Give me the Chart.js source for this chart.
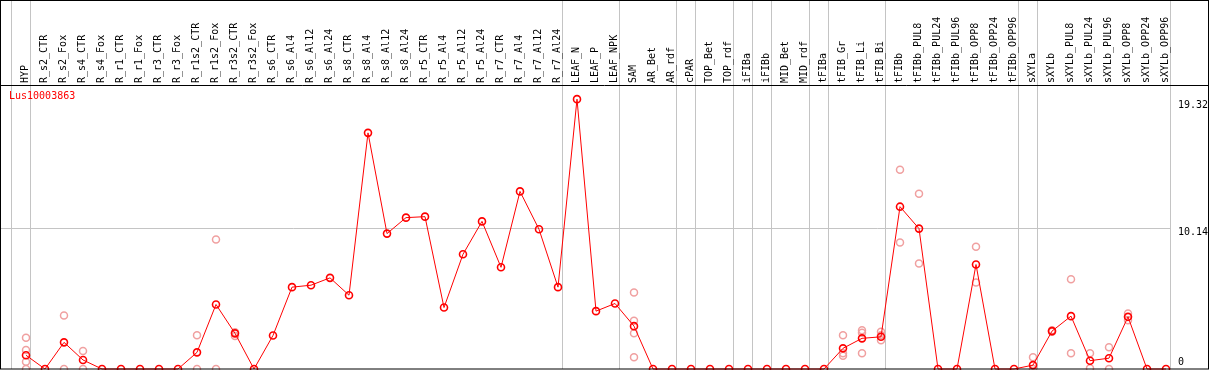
<!DOCTYPE html>
<html>
<head>
<meta charset="utf-8">
<script src="https://cdn.jsdelivr.net/npm/chart.js@4.4.0/dist/chart.umd.min.js"></script>
<style>
  html, body { margin: 0; padding: 0; background: #fff; }
  #wrap { position: relative; width: 1209px; height: 370px; }
  #title { position: absolute; left: 9px; top: 90px; color: #ff0000;
           font: 10px "DejaVu Sans Mono", monospace; white-space: nowrap; }
</style>
</head>
<body>
<div id="wrap">
  <canvas id="c" width="1209" height="370"></canvas>
  <div id="title">Lus10003863</div>
</div>
<script>
// ---- data ----
const categories = [
  "HYP","R_s2_CTR","R_s2_Fox","R_s4_CTR","R_s4_Fox","R_r1_CTR","R_r1_Fox","R_r3_CTR","R_r3_Fox",
  "R_r1s2_CTR","R_r1s2_Fox","R_r3s2_CTR","R_r3s2_Fox","R_s6_CTR","R_s6_Al4","R_s6_Al12","R_s6_Al24",
  "R_s8_CTR","R_s8_Al4","R_s8_Al12","R_s8_Al24","R_r5_CTR","R_r5_Al4","R_r5_Al12","R_r5_Al24",
  "R_r7_CTR","R_r7_Al4","R_r7_Al12","R_r7_Al24","LEAF_N","LEAF_P","LEAF_NPK","SAM","AR_Bet","AR_rdf",
  "cPAR","TOP_Bet","TOP_rdf","iFIBa","iFIBb","MID_Bet","MID_rdf","tFIBa","tFIB_Gr","tFIB_Li","tFIB_Bi",
  "tFIBb","tFIBb_PUL8","tFIBb_PUL24","tFIBb_PUL96","tFIBb_OPP8","tFIBb_OPP24","tFIBb_OPP96",
  "sXYLa","sXYLb","sXYLb_PUL8","sXYLb_PUL24","sXYLb_PUL96","sXYLb_OPP8","sXYLb_OPP24","sXYLb_OPP96"
];
const meanValues = [
  0.99, 0, 1.92, 0.65, 0, 0, 0, 0, 0,
  1.2, 4.65, 2.57, 0, 2.42, 5.9, 6.04, 6.57,
  5.32, 17.02, 9.76, 10.91, 10.98, 4.43, 8.27, 10.64,
  7.33, 12.8, 10.07, 5.9, 19.45, 4.17, 4.72, 3.09, 0, 0,
  0, 0, 0, 0, 0, 0, 0, 0, 1.49, 2.21, 2.32,
  11.7, 10.12, 0, 0, 7.53, 0, 0,
  0.28, 2.73, 3.81, 0.6, 0.78, 3.76, 0, 0
];
// individual replicate measurements (category index, value)
const replicateCats = [
  0,0,0,0, 2,2, 3,3, 9,9, 10,10, 11,11,
  32,32,32,32, 43,43,43, 44,44,44, 45,45,45, 46,46, 47,47, 50,50,
  53,53, 54,54, 55,55, 56,56, 57,57, 58,58
];
const replicateValues = [
  2.25,1.37,0.52,0, 3.86,0, 1.29,0, 2.44,0, 9.33,0, 2.64,2.37,
  5.52,3.47,2.57,0.84, 2.44,1.13,0.96, 2.8,2.61,1.13, 2.68,2.44,2.08, 14.36,9.11, 12.63,7.6, 8.82,6.23,
  0.84,0, 2.8,2.68, 6.47,1.13, 1.13,0.05, 1.56,0, 4.0,3.52
];
// group separators are drawn just after these category indices
const groupEnds = [-1, 0, 28, 31, 34, 35, 37, 38, 39, 41, 42, 45, 52, 53, 60];
const yTickValues = [0, 10.14, 19.32];
const yMax = 20.47;

// ---- styling constants ----
const MONO = "'DejaVu Sans Mono', monospace";
const SEP_SHIFT = 4 / 19;
const PX_PER_CAT = 19;
const GRID = '#c4c4c4';

const xMax = groupEnds[groupEnds.length - 1] + SEP_SHIFT;
const plotLeft = 1, plotRight = 1170;
const xMin = xMax - (plotRight - plotLeft) / PX_PER_CAT;

const mainPts = meanValues.map((v, i) => ({ x: i, y: v }));
const repPts = replicateValues.map((v, k) => ({ x: replicateCats[k], y: v }));
const sepValues = groupEnds.map(g => g + SEP_SHIFT);

const framePlugin = {
  id: 'frame',
  beforeDraw(chart) {
    try {
      const s = chart.scales.y;
      const items = s.getLabelItems();
      items.forEach(it => {
        const t = it.options.translation;
        t[1] = Math.min(t[1] + 4, chart.chartArea.bottom - 7);
      });
    } catch (e) {}
  },
  afterDraw(chart) {
    const ctx = chart.ctx, W = chart.width, H = chart.height, top = chart.chartArea.top;
    ctx.save();
    ctx.strokeStyle = '#000';
    ctx.lineWidth = 1;
    ctx.strokeRect(0.5, 0.5, W - 1, H - 1.5);
    ctx.beginPath();
    ctx.moveTo(0, top + 0.5); ctx.lineTo(W, top + 0.5);
    ctx.stroke();
    ctx.restore();
  }
};

new Chart(document.getElementById('c'), {
  type: 'line',
  data: {
    datasets: [
      {
        label: 'Lus10003863',
        data: mainPts,
        order: 0,
        borderColor: '#ff0000',
        borderWidth: 1,
        pointStyle: 'circle',
        pointRadius: 3.5,
        pointBorderWidth: 1.6,
        pointBorderColor: '#ff0000',
        pointBackgroundColor: 'rgba(0,0,0,0)',
        tension: 0,
        clip: false
      },
      {
        label: 'replicates',
        data: repPts,
        order: 1,
        showLine: false,
        pointStyle: 'circle',
        pointRadius: 3.5,
        pointBorderWidth: 1.5,
        pointBorderColor: '#f0a0a0',
        pointBackgroundColor: 'rgba(0,0,0,0)',
        clip: false
      }
    ]
  },
  options: {
    responsive: false,
    animation: false,
    events: [],
    layout: { autoPadding: false, padding: { left: plotLeft, top: 0, right: 0, bottom: 1 } },
    plugins: { legend: { display: false }, tooltip: { enabled: false }, title: { display: false } },
    scales: {
      x: {
        type: 'linear',
        position: 'top',
        min: xMin,
        max: xMax,
        afterBuildTicks(scale) {
          const t = categories.map((c, i) => ({ value: i }))
            .concat(sepValues.map(v => ({ value: v })));
          t.sort((a, b) => a.value - b.value);
          scale.ticks = t;
        },
        afterFit(scale) {
          scale.height = 85;
          scale.paddingLeft = 0; scale.paddingRight = 0;
          scale.paddingTop = 0; scale.paddingBottom = 0;
        },
        grid: {
          drawTicks: true,
          tickLength: 85,
          lineWidth: 1,
          color: (ctx) => (ctx.tick && Number.isInteger(ctx.tick.value)) ? 'rgba(0,0,0,0)' : GRID,
          tickColor: (ctx) => (ctx.tick && Number.isInteger(ctx.tick.value)) ? 'rgba(0,0,0,0)' : GRID
        },
        border: { display: false },
        ticks: {
          autoSkip: false,
          minRotation: 90,
          maxRotation: 90,
          padding: -83,
          labelOffset: 11,
          color: '#000',
          font: { family: MONO, size: 10 },
          callback: (v) => Number.isInteger(v) ? categories[v] : ''
        }
      },
      y: {
        type: 'linear',
        position: 'right',
        min: 0,
        max: yMax,
        afterBuildTicks(scale) { scale.ticks = yTickValues.map(v => ({ value: v })); },
        afterFit(scale) {
          scale.width = 1209 - plotRight;
          scale.paddingTop = 0; scale.paddingBottom = 0;
          scale.paddingLeft = 0; scale.paddingRight = 0;
        },
        grid: {
          drawTicks: false,
          color: (ctx) => (ctx.tick && ctx.tick.value === 10.14) ? GRID : 'rgba(0,0,0,0)'
        },
        border: { display: false },
        ticks: {
          padding: 8,
          color: '#000',
          font: { family: MONO, size: 10 },
          callback: (v) => String(v)
        }
      }
    }
  },
  plugins: [framePlugin]
});
</script>
</body>
</html>
